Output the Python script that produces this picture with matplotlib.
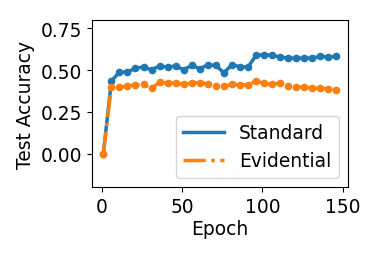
import matplotlib
matplotlib.use("Agg")
import matplotlib.pyplot as plt
import numpy as np

# evaluated every 5 epochs starting at epoch 1
EPOCHS = np.arange(1, 147, 5)

STANDARD_ACC = [
    0.000, 0.434, 0.488, 0.488, 0.512, 0.518, 0.502, 0.524, 0.518, 0.524,
    0.502, 0.528, 0.508, 0.532, 0.528, 0.484, 0.532, 0.520, 0.518, 0.588,
    0.592, 0.588, 0.578, 0.572, 0.572, 0.572, 0.572, 0.582, 0.578, 0.582,
]
EVIDENTIAL_ACC = [
    0.000, 0.400, 0.398, 0.404, 0.412, 0.414, 0.392, 0.428, 0.422, 0.424,
    0.414, 0.424, 0.424, 0.418, 0.404, 0.404, 0.414, 0.412, 0.412, 0.434,
    0.422, 0.414, 0.422, 0.404, 0.398, 0.398, 0.392, 0.390, 0.388, 0.382,
]

FS = 13.4
LW = 2.5

fig = plt.figure(figsize=(3.82, 2.55), dpi=100)
ax = fig.add_axes([0.240, 0.262, 0.671, 0.656])

ax.plot(EPOCHS, STANDARD_ACC, color="tab:blue", linewidth=LW,
        linestyle="-", label="Standard")
ax.plot(EPOCHS, STANDARD_ACC, color="tab:blue", linestyle="none",
        marker="o", markersize=4.5)
ax.plot(EPOCHS, EVIDENTIAL_ACC, color="tab:orange", linewidth=LW,
        linestyle="-.", label="Evidential")
ax.plot(EPOCHS, EVIDENTIAL_ACC, color="tab:orange", linestyle="none",
        marker="o", markersize=4.5)

ax.set_ylim(-0.2, 0.8)
ax.set_yticks([0.0, 0.25, 0.5, 0.75])
ax.set_xticks([0, 50, 100, 150])
ax.set_xlabel("Epoch", fontsize=FS, labelpad=2)
ax.set_ylabel("Test Accuracy", fontsize=FS)
ax.tick_params(axis="both", labelsize=FS)
ax.legend(loc="lower right", fontsize=FS, handlelength=2.2)

plt.savefig("out.png", dpi=100)
